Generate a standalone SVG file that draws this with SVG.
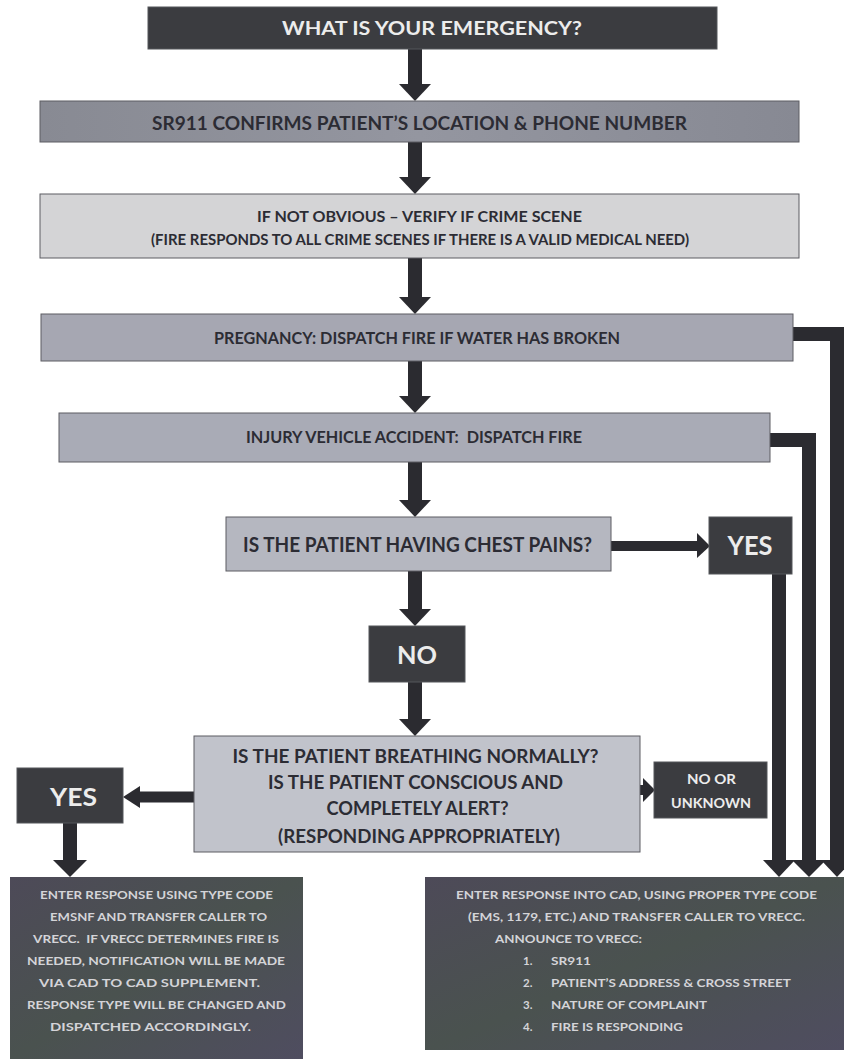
<svg xmlns="http://www.w3.org/2000/svg" width="844" height="1059" viewBox="0 0 844 1059">
<style>
.dark{fill:#3b3c40;stroke:#55565a;stroke-width:1}
.box{stroke:#5c5d63;stroke-width:1}
.t{font-family:Lato,"Open Sans","Liberation Sans",sans-serif;font-weight:bold;text-anchor:middle}
.tg{fill:#2c2c34}
.tw{fill:#ececec}
.tb{fill:#d4d4d8;font-size:11.5px}
.ts{font-family:Lato,"Open Sans","Liberation Sans",sans-serif;font-weight:bold;fill:#d4d4d8;font-size:11.5px}
.pre{white-space:pre}
.conn{fill:none;stroke:#2b2b30;stroke-width:14;stroke-linejoin:miter;stroke-linecap:butt}
.head{fill:#2b2b30}
</style>
<defs>
<linearGradient id="gBottom" x1="0" y1="0" x2="1" y2="1">
<stop offset="0" stop-color="#4d4a58"/>
<stop offset="0.5" stop-color="#4a524f"/>
<stop offset="1" stop-color="#4f4d60"/>
</linearGradient>
<linearGradient id="gMid" x1="0" y1="0" x2="1" y2="0">
<stop offset="0" stop-color="#888a93"/>
<stop offset="0.5" stop-color="#9496a0"/>
<stop offset="1" stop-color="#878993"/>
</linearGradient>
</defs>
<rect width="844" height="1059" fill="#ffffff"/>

<g id="connectors">
<line class="conn" x1="415" y1="49" x2="415" y2="85"/><polygon class="head" points="399,84 431,84 415,101"/>
<line class="conn" x1="415" y1="142" x2="415" y2="178"/><polygon class="head" points="399,177 431,177 415,194"/>
<line class="conn" x1="415" y1="258" x2="415" y2="298"/><polygon class="head" points="399,297 431,297 415,314"/>
<line class="conn" x1="415" y1="361" x2="415" y2="397"/><polygon class="head" points="399,396 431,396 415,413"/>
<line class="conn" x1="415" y1="462" x2="415" y2="501"/><polygon class="head" points="399,500 431,500 415,517"/>
<line class="conn" x1="415" y1="571" x2="415" y2="610"/><polygon class="head" points="399,609 431,609 415,626"/>
<line class="conn" x1="415" y1="682" x2="415" y2="720"/><polygon class="head" points="399,719 431,719 415,736"/>
<line class="conn" style="stroke-width:10" x1="611" y1="546" x2="698" y2="546"/><polygon class="head" points="697,533 697,558 710,546"/>
<line class="conn" style="stroke-width:10" x1="640" y1="790" x2="644" y2="790"/><polygon class="head" points="643,778 643,802 655,790"/>
<line class="conn" style="stroke-width:11" x1="194" y1="797" x2="139" y2="797"/><polygon class="head" points="140,786 140,808 123,797"/>
<line class="conn" x1="70" y1="823" x2="70" y2="861"/><polygon class="head" points="53,860 87,860 70,877"/>
<path class="conn" d="M793,334 H837 V861"/><polygon class="head" points="821,860 853,860 837,877"/>
<path class="conn" d="M770,440 H809 V861"/><polygon class="head" points="792,860 826,860 809,877"/>
<path class="conn" d="M779,574 V861"/><polygon class="head" points="763,860 795,860 779,877"/>
</g>

<g id="n-emergency">
<rect class="dark" x="148" y="7" width="569" height="42"/>
<text class="t tw" x="432" y="35.4" font-size="18" textLength="300" lengthAdjust="spacingAndGlyphs">WHAT IS YOUR EMERGENCY?</text>
</g>

<g id="n-confirm">
<rect class="box" x="40" y="101" width="759" height="41" fill="url(#gMid)"/>
<text class="t tg" x="419.5" y="129.5" font-size="18" textLength="535" lengthAdjust="spacingAndGlyphs">SR911 CONFIRMS PATIENT’S LOCATION &amp; PHONE NUMBER</text>
</g>

<g id="n-crime">
<rect class="box" x="40" y="194" width="759" height="64" fill="#d4d4d6"/>
<text class="t tg" x="419.5" y="222.4" font-size="15" textLength="325" lengthAdjust="spacingAndGlyphs">IF NOT OBVIOUS – VERIFY IF CRIME SCENE</text>
<text class="t tg" x="420" y="245.4" font-size="15" textLength="538" lengthAdjust="spacingAndGlyphs">(FIRE RESPONDS TO ALL CRIME SCENES IF THERE IS A VALID MEDICAL NEED)</text>
</g>

<g id="n-pregnancy">
<rect class="box" x="41" y="314" width="752" height="47" fill="#a6a7b2"/>
<text class="t tg" x="417" y="344" font-size="17" textLength="406" lengthAdjust="spacingAndGlyphs">PREGNANCY: DISPATCH FIRE IF WATER HAS BROKEN</text>
</g>

<g id="n-injury">
<rect class="box" x="59" y="413" width="711" height="49" fill="#a9abb6"/>
<text class="t tg pre" x="414" y="443" font-size="17" textLength="336" lengthAdjust="spacingAndGlyphs">INJURY VEHICLE ACCIDENT:  DISPATCH FIRE</text>
</g>

<g id="n-chest">
<rect class="box" x="226" y="517" width="385" height="54" fill="#b5b7c0"/>
<text class="t tg" x="417.5" y="552" font-size="20" textLength="349" lengthAdjust="spacingAndGlyphs">IS THE PATIENT HAVING CHEST PAINS?</text>
</g>

<g id="n-yes-right">
<rect class="dark" x="709" y="517" width="83" height="57"/>
<text class="t tw" x="750" y="554.7" font-size="27" textLength="45" lengthAdjust="spacingAndGlyphs">YES</text>
</g>

<g id="n-no">
<rect class="dark" x="369" y="626" width="96" height="56" fill="#3d4447"/>
<text class="t tw" x="417" y="663.6" font-size="24" textLength="40" lengthAdjust="spacingAndGlyphs">NO</text>
</g>

<g id="n-breathing">
<rect class="box" x="194" y="736" width="446" height="116" fill="#c1c3cb"/>
<text class="t tg" x="415.5" y="763.4" font-size="18" textLength="366" lengthAdjust="spacingAndGlyphs">IS THE PATIENT BREATHING NORMALLY?</text>
<text class="t tg" x="415.5" y="789.4" font-size="18" textLength="295" lengthAdjust="spacingAndGlyphs">IS THE PATIENT CONSCIOUS AND</text>
<text class="t tg" x="417.5" y="815.4" font-size="18" textLength="182" lengthAdjust="spacingAndGlyphs">COMPLETELY ALERT?</text>
<text class="t tg" x="419" y="843.4" font-size="18" textLength="282" lengthAdjust="spacingAndGlyphs">(RESPONDING APPROPRIATELY)</text>
</g>

<g id="n-yes-left">
<rect class="dark" x="17" y="768" width="106" height="55"/>
<text class="t tw" x="73.5" y="805.6" font-size="24" textLength="47" lengthAdjust="spacingAndGlyphs">YES</text>
</g>

<g id="n-unknown">
<rect class="dark" x="654" y="762" width="113" height="56" fill="#45454a"/>
<text class="t tw" x="711.5" y="783.7" font-size="13" textLength="49" lengthAdjust="spacingAndGlyphs">NO OR</text>
<text class="t tw" x="711" y="807.7" font-size="13" textLength="80" lengthAdjust="spacingAndGlyphs">UNKNOWN</text>
</g>

<g id="n-emsnf">
<rect x="10" y="877" width="293" height="182" fill="url(#gBottom)"/>
<text class="t tb" x="156.5" y="899.1" textLength="233" lengthAdjust="spacingAndGlyphs">ENTER RESPONSE USING TYPE CODE</text>
<text class="t tb" x="158.5" y="921.1" textLength="217" lengthAdjust="spacingAndGlyphs">EMSNF AND TRANSFER CALLER TO</text>
<text class="t tb pre" x="156" y="943.1" textLength="246" lengthAdjust="spacingAndGlyphs">VRECC.  IF VRECC DETERMINES FIRE IS</text>
<text class="t tb" x="156" y="965.1" textLength="258" lengthAdjust="spacingAndGlyphs">NEEDED, NOTIFICATION WILL BE MADE</text>
<text class="t tb" x="149.5" y="987.1" textLength="221" lengthAdjust="spacingAndGlyphs">VIA CAD TO CAD SUPPLEMENT.</text>
<text class="t tb" x="156.5" y="1009.1" textLength="259" lengthAdjust="spacingAndGlyphs">RESPONSE TYPE WILL BE CHANGED AND</text>
<text class="t tb" x="150.5" y="1031.1" textLength="201" lengthAdjust="spacingAndGlyphs">DISPATCHED ACCORDINGLY.</text>
</g>

<g id="n-cad">
<rect x="425" y="877" width="419" height="173" fill="url(#gBottom)"/>
<text class="t tb" x="636.5" y="899.1" textLength="361" lengthAdjust="spacingAndGlyphs">ENTER RESPONSE INTO CAD, USING PROPER TYPE CODE</text>
<text class="t tb" x="636.5" y="921.1" textLength="337" lengthAdjust="spacingAndGlyphs">(EMS, 1179, ETC.) AND TRANSFER CALLER TO VRECC.</text>
<text class="ts" x="495" y="943.1" textLength="147" lengthAdjust="spacingAndGlyphs">ANNOUNCE TO VRECC:</text>
<text class="ts" x="523" y="965.1">1.</text>
<text class="ts" x="551" y="965.1" textLength="40" lengthAdjust="spacingAndGlyphs">SR911</text>
<text class="ts" x="523" y="987.1">2.</text>
<text class="ts" x="551" y="987.1" textLength="240" lengthAdjust="spacingAndGlyphs">PATIENT’S ADDRESS &amp; CROSS STREET</text>
<text class="ts" x="523" y="1009.1">3.</text>
<text class="ts" x="551" y="1009.1" textLength="156" lengthAdjust="spacingAndGlyphs">NATURE OF COMPLAINT</text>
<text class="ts" x="523" y="1031.1">4.</text>
<text class="ts" x="551" y="1031.1" textLength="132" lengthAdjust="spacingAndGlyphs">FIRE IS RESPONDING</text>
</g>
</svg>
